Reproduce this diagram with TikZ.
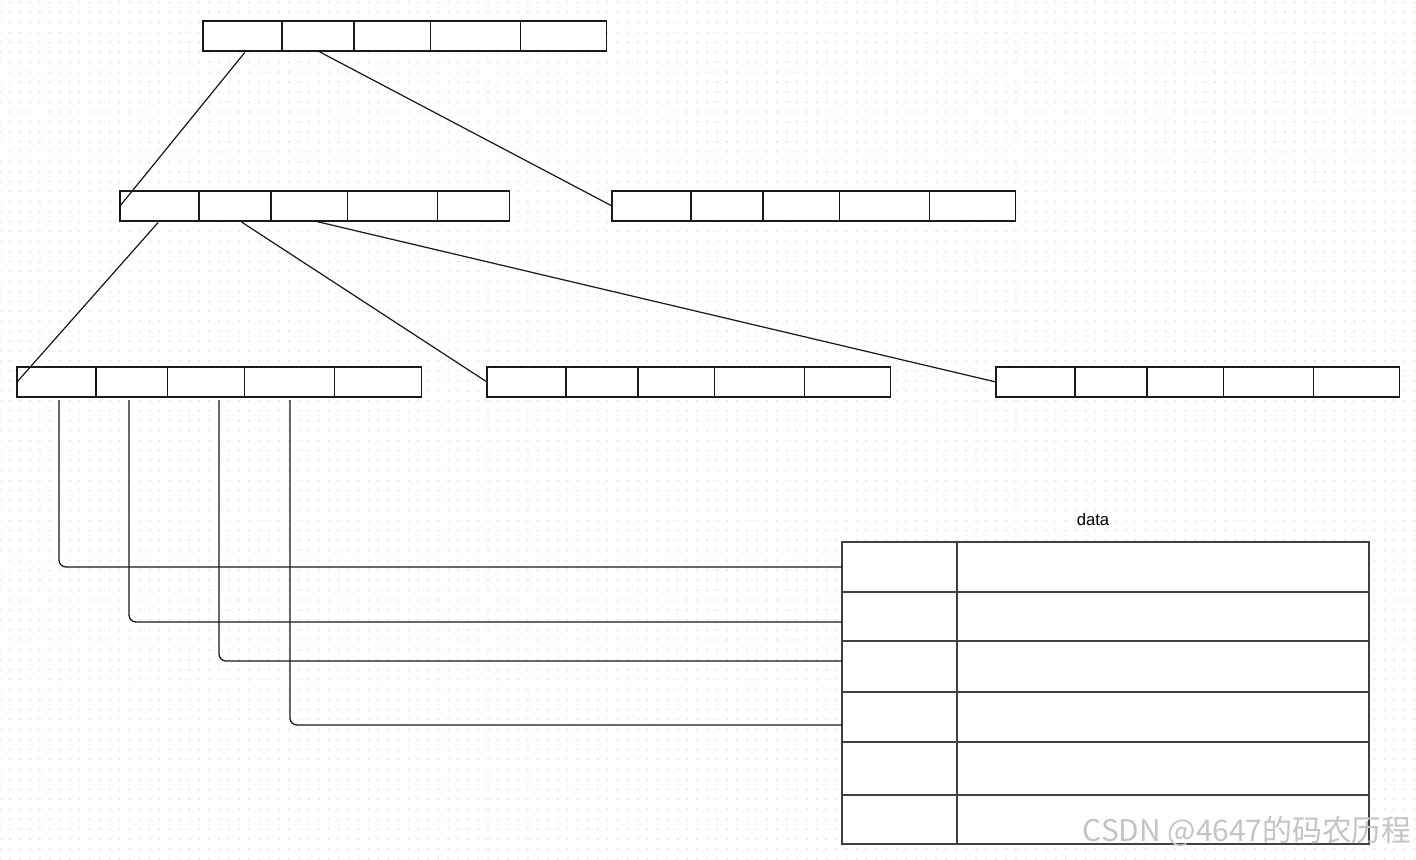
\documentclass[tikz,border=0pt]{standalone}
\usepackage{fontspec}
\setmainfont{Liberation Sans}
\newfontfamily\cjkfont{Noto Sans CJK SC}
\usetikzlibrary{positioning, patterns}
\definecolor{gridgray}{HTML}{E2E2E2}
\definecolor{wmgray}{HTML}{C4C4C4}
\definecolor{linegray}{HTML}{1A1A1A}
% puntini della griglia di sfondo (passo 10px)
\pgfdeclarepatternformonly{griddots}{\pgfqpoint{-1pt}{-1pt}}{\pgfqpoint{1pt}{1pt}}%
  {\pgfqpoint{5.669pt}{5.669pt}}{\pgfpathcircle{\pgfpointorigin}{0.6pt}\pgfusepath{fill}}
\tikzset{
  % cella di un nodo dell'albero
  cell/.style={draw=linegray, line width=0.6pt, fill=white, minimum height=0.6cm,
    inner sep=0pt, outer sep=0pt},
  % cella della tabella dati
  dcell/.style={cell, draw=black!75, line width=0.75pt},
  % collegamenti tra nodi
  link/.style={line width=0.7pt, linegray, shorten <=0.04cm},
  elbow/.style={line width=0.75pt, linegray, rounded corners=0.14cm, shorten <=0.06cm},
  % etichette
  lbl/.style={font=\fontsize{9.5}{11}\selectfont, align=center},
  wmark/.style={font=\cjkfont\fontsize{17}{19}\selectfont, text=wmgray, inner sep=0pt},
}
% un nodo a cinque celle
\newcommand{\recordnode}[3]{%
  \node[cell, minimum width=1.58cm, anchor=north west] (#1-1) at (#2) {};
  \node[cell, minimum width=1.44cm, right=of #1-1] (#1-2) {};
  \node[cell, minimum width=1.54cm, right=of #1-2] (#1-3) {};
  \node[cell, minimum width=1.80cm, right=of #1-3] (#1-4) {};
  \node[cell, minimum width=#3, right=of #1-4] (#1-5) {};
}
\begin{document}
\begin{tikzpicture}[x=0.02cm, y=-0.02cm, node distance=0pt]
  \useasboundingbox (0,0) rectangle (1416,859);
  \fill[white] (0,0) rectangle (1416,859);
  \fill[pattern=griddots, pattern color=gridgray] (0,0) rectangle (1416,859);

  % albero
  \recordnode{top}{203,21}{1.72cm}
  \recordnode{l2a}{120,191}{1.44cm}
  \recordnode{l2b}{612,191}{1.72cm}
  \recordnode{l3a}{17,367}{1.74cm}
  \recordnode{l3b}{487,367}{1.72cm}
  \recordnode{l3c}{996,367}{1.72cm}

  \draw[link] ([xshift=0.07cm]top-1.south) -- (l2a-1.west);
  \draw[link] (top-2.south) -- (l2b-1.west);
  \draw[link] (l2a-1.south) -- (l3a-1.west);
  \draw[link] ([xshift=0.1cm]l2a-2.south) -- (l3b-1.west);
  \draw[link] ([xshift=0.1cm]l2a-3.south) -- (l3c-1.west);

  % tabella dati
  \node[lbl] (datalbl) at (1093,520) {data};
  \node[dcell, minimum width=2.3cm, minimum height=1.0cm, anchor=north west] (dk1) at (842,542) {};
  \node[dcell, minimum width=2.3cm, minimum height=0.98cm, below=of dk1] (dk2) {};
  \node[dcell, minimum width=2.3cm, minimum height=1.02cm, below=of dk2] (dk3) {};
  \node[dcell, minimum width=2.3cm, minimum height=1.0cm, below=of dk3] (dk4) {};
  \node[dcell, minimum width=2.3cm, minimum height=1.06cm, below=of dk4] (dk5) {};
  \node[dcell, minimum width=2.3cm, minimum height=0.98cm, below=of dk5] (dk6) {};
  \node[dcell, minimum width=8.24cm, minimum height=1.0cm, right=of dk1] (dv1) {};
  \node[dcell, minimum width=8.24cm, minimum height=0.98cm, right=of dk2] (dv2) {};
  \node[dcell, minimum width=8.24cm, minimum height=1.02cm, right=of dk3] (dv3) {};
  \node[dcell, minimum width=8.24cm, minimum height=1.0cm, right=of dk4] (dv4) {};
  \node[dcell, minimum width=8.24cm, minimum height=1.06cm, right=of dk5] (dv5) {};
  \node[dcell, minimum width=8.24cm, minimum height=0.98cm, right=of dk6] (dv6) {};

  \draw[elbow] ([xshift=0.05cm]l3a-1.south) |- (dk1.west);
  \draw[elbow] ([xshift=-0.06cm]l3a-2.south) |- ([yshift=-0.11cm]dk2.west);
  \draw[elbow] ([xshift=0.25cm]l3a-3.south) |- ([yshift=0.11cm]dk3.west);
  \draw[elbow] (l3a-4.south) |- ([yshift=-0.16cm]dk4.west);

  \node[wmark, anchor=south east] (wm) at (1412,847) {CSDN @4647的码农历程};
\end{tikzpicture}
\end{document}
